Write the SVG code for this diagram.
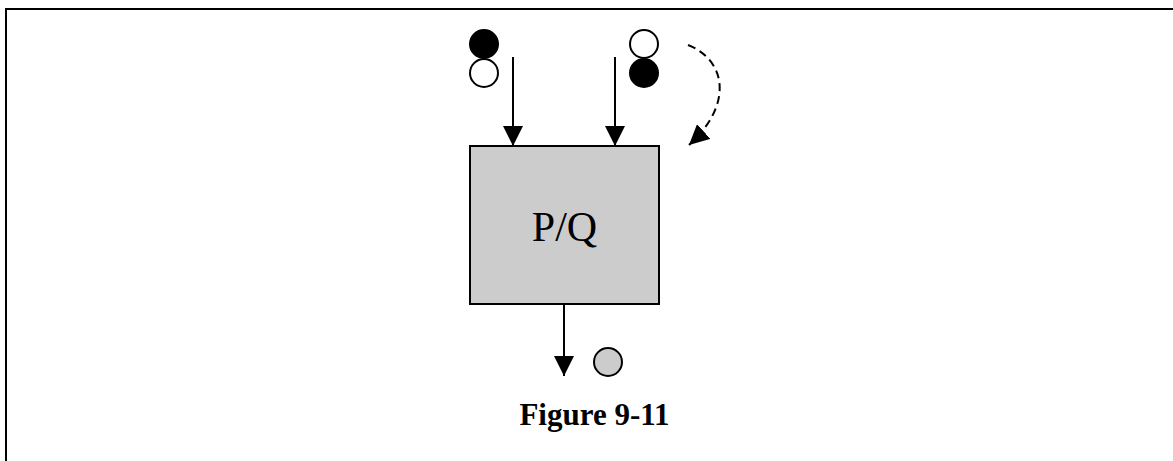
<svg xmlns="http://www.w3.org/2000/svg" width="1173" height="461" viewBox="0 0 1173 461">
<style>
.ln{stroke:#000;stroke-width:2;fill:none}
.dash{stroke:#000;stroke-width:2;fill:none;stroke-dasharray:8 5}
.tok{stroke:#000;stroke-width:2}
.lbl{font-family:"Liberation Serif","Times New Roman",serif;fill:#000}
</style>
<defs>
<marker id="ah" markerUnits="userSpaceOnUse" markerWidth="20" markerHeight="20" viewBox="0 0 20 20" refX="20" refY="10" orient="auto">
<path d="M0,0 L20,10 L0,20 z" fill="#000"/>
</marker>
</defs>
<rect width="1173" height="461" fill="#fff"/>
<path class="ln" d="M6,461 V9 H1173"/>
<g id="node-pq">
<rect x="470" y="146" width="189" height="158" fill="#cccccc" stroke="#000" stroke-width="2"/>
<text class="lbl" x="564.5" y="241" font-size="42" text-anchor="middle">P/Q</text>
</g>
<g id="node-tokens-left">
<circle class="tok" cx="484" cy="44" r="14" fill="#000"/>
<circle class="tok" cx="484" cy="73" r="14" fill="#fff"/>
</g>
<g id="node-tokens-right">
<circle class="tok" cx="644" cy="44" r="14" fill="#fff"/>
<circle class="tok" cx="644" cy="73" r="14" fill="#000"/>
</g>
<g id="node-token-out">
<circle class="tok" cx="608" cy="362" r="14" fill="#cccccc"/>
</g>
<g id="connectors">
<line class="ln" x1="513" y1="57" x2="513" y2="146" marker-end="url(#ah)"/>
<line class="ln" x1="615" y1="57" x2="615" y2="146" marker-end="url(#ah)"/>
<line class="ln" x1="564" y1="304" x2="564" y2="376" marker-end="url(#ah)"/>
<path class="dash" d="M688,45 C726,60 734,104 689,145" marker-end="url(#ah)"/>
</g>
<g id="caption">
<text class="lbl" x="594.5" y="425" font-size="31" font-weight="bold" text-anchor="middle">Figure 9-11</text>
</g>
</svg>
